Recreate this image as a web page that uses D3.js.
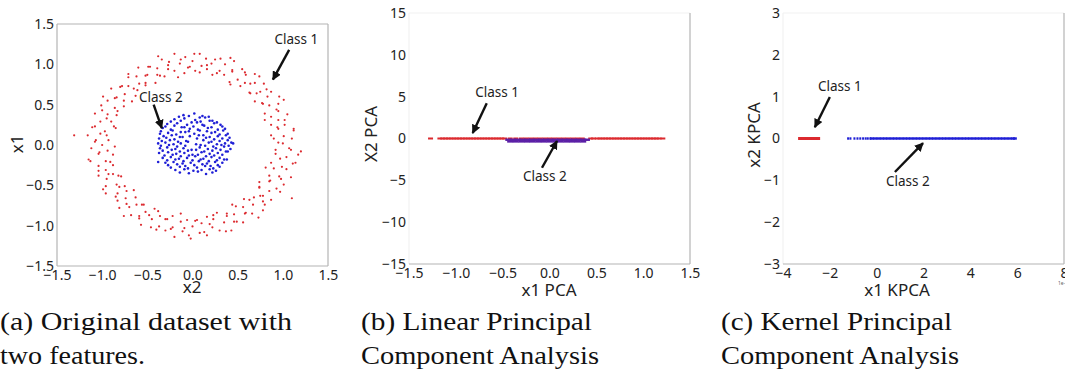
<!DOCTYPE html>
<html>
  <head>
    <meta charset="utf-8">
    <title>Linear vs Kernel PCA</title>
    <script src="https://cdn.jsdelivr.net/npm/d3@7"></script>
    <style>
      body { margin: 0; background: #fff; }
      .tick text { font-family: "Noto Sans", sans-serif; font-size: 14px; fill: #222; }
      .axis-label { font-family: "Noto Sans", sans-serif; font-size: 17px; fill: #222; }
      .note { font-family: "Noto Sans", sans-serif; font-size: 13.5px; fill: #222; }
      .caption { font-family: "Liberation Serif", serif; font-size: 25px; fill: #111; }
    </style>
  </head>
  <body>
    <div id="chart"></div>
    <script>
      // ---- data ----
      // (a) original dataset, points as [x2, x1]
      var class1Ring = [
        [.95,.03],[1.10,.08],[1.01,.11],[.87,.12],[1.12,.20],[.95,.20],[1.02,.25],[.87,.25],[.95,.31],[1.05,.38],
        [.87,.35],[.95,.42],[.80,.39],[.95,.51],[.85,.49],[.96,.60],[.77,.52],[.83,.60],[.69,.54],[.82,.69],
        [.71,.64],[.79,.76],[.63,.65],[.69,.77],[.64,.76],[.69,.88],[.53,.73],[.59,.87],[.50,.81],[.55,.94],
        [.41,.78],[.44,.91],[.46,1.04],[.35,.87],[.36,1.00],[.30,.92],[.31,1.07],[.22,.87],[.21,1.01],[.16,.94],
        [.15,1.07],[.10,.98],[.08,1.13],[.03,.92],[0,1.04],
        [-.03,.97],[-.08,1.09],[-.09,.89],[-.14,1.01],[-.20,1.13],[-.20,.92],[-.26,1.03],[-.27,.94],[-.34,1.06],[-.31,.85],
        [-.39,.95],[-.39,.87],[-.47,.97],[-.41,.77],[-.50,.87],[-.60,.96],[-.52,.77],[-.62,.85],[-.59,.76],[-.71,.84],
        [-.61,.68],[-.71,.73],[-.63,.61],[-.80,.72],[-.75,.63],[-.90,.70],[-.76,.55],[-.86,.58],[-.76,.48],[-.94,.55],
        [-.86,.46],[-1.01,.49],[-.84,.37],[-.94,.38],[-1.08,.39],[-.90,.29],[-1.02,.29],[-.85,.21],[-1.08,.23],[-.97,.17],
        [-1.02,.14],[-1.16,.12],[-.93,.06],[-1.08,.04],[-1.00,0],[-1.31,.12],
        [-1.12,-.04],[-.94,-.07],[-1.04,-.11],[-.88,-.12],[-1.13,-.20],[-.96,-.20],[-1.04,-.26],[-.88,-.25],[-.96,-.31],[-1.04,-.38],
        [-.88,-.36],[-.95,-.42],[-.79,-.39],[-.96,-.51],[-.84,-.49],[-.96,-.60],[-.75,-.51],[-.83,-.60],[-.73,-.57],[-.83,-.69],
        [-.74,-.66],[-.81,-.78],[-.63,-.65],[-.70,-.77],[-.62,-.74],[-.68,-.87],[-.54,-.74],[-.59,-.88],[-.52,-.83],[-.57,-.99],
        [-.42,-.79],[-.45,-.92],[-.46,-1.02],[-.36,-.88],[-.37,-1.01],[-.30,-.92],[-.30,-1.06],[-.22,-.88],[-.22,-1.02],[-.20,-1.14],
        [-.13,-.95],[-.11,-1.07],[-.06,-.93],[-.04,-1.12],[0,-1.01],
        [.03,-.94],[.08,-1.09],[.10,-.97],[.16,-1.12],[.16,-.89],[.22,-1.02],[.23,-.92],[.30,-1.06],[.27,-.84],[.35,-.96],
        [.43,-1.06],[.38,-.85],[.46,-.95],[.46,-.86],[.56,-.96],[.48,-.76],[.58,-.85],[.56,-.77],[.66,-.85],[.57,-.67],
        [.67,-.74],[.78,-.81],[.68,-.65],[.78,-.70],[.75,-.63],[.87,-.68],[.74,-.53],[.85,-.57],[.74,-.46],[.93,-.54],
        [.85,-.45],[1.01,-.49],[.85,-.38],[.96,-.39],[1.09,-.40],[.90,-.29],[1.04,-.30],[.87,-.22],[1.11,-.23],[.97,-.17],
        [1.04,-.15],[1.17,-.12],[.92,-.06],[1.07,-.04],[1.20,-.08],[1.10,-.66],
        [1.00,.02],[.90,.08],[1.12,.18],[.94,.22],[1.02,.31],[.80,.31],[.93,.44],[1.01,.56],[.78,.51],[.87,.66],
        [.75,.66],[.64,.64],[.74,.85],[.58,.77],[.58,.90],[.42,.75],[.44,.93],[.42,1.08],[.27,.89],[.25,1.06],
        [.16,.99],[.08,.90],[.02,1.13],[-.05,.96],[-.13,1.06],[-.16,.84],[-.27,.99],[-.38,1.10],[-.36,.86],[-.49,.97],
        [-.52,.86],[-.52,.74],[-.71,.88],[-.65,.70],[-.78,.73],[-.67,.54],[-.84,.59],[-.99,.60],[-.83,.42],[-1.00,.43],
        [-.95,.33],[-.87,.23],[-1.11,.22],[-.95,.12],[-1.07,.06],[-.86,-.02],[-1.03,-.09],[-1.15,-.18],[-.91,-.21],[-1.04,-.32],
        [-.93,-.36],[-.82,-.38],[-.99,-.55],[-.81,-.52],[-.85,-.64],[-.65,-.56],[-.73,-.73],[-.76,-.88],[-.56,-.74],[-.59,-.91],
        [-.48,-.87],[-.38,-.82],[-.40,-1.05],[-.28,-.92],[-.24,-1.04],[-.13,-.85],[-.09,-1.03],[-.02,-1.16],[.05,-.93],[.13,-1.08],
        [.19,-.98],[.23,-.87],[.37,-1.07],[.38,-.88],[.49,-.95],[.44,-.74],[.59,-.84],[.73,-.90],[.63,-.68],[.80,-.74],
        [.78,-.63],[.74,-.52],[.97,-.58],[.86,-.44],[.98,-.42],[.81,-.28],[.99,-.27],[1.14,-.22],[.92,-.11],[1.09,-.06]
      ];
      var class2Blob = [
        [-.10,.37],[.02,.39],[.11,.36],
        [-.20,.32],[-.09,.33],[.03,.31],[.14,.34],[.22,.30],
        [-.28,.26],[-.17,.27],[-.06,.25],[.05,.28],[.13,.24],[.24,.27],[.31,.25],
        [-.33,.21],[-.24,.19],[-.12,.22],[-.03,.20],[.08,.18],[.17,.21],[.28,.19],[.36,.20],
        [-.36,.14],[-.27,.15],[-.18,.13],[-.08,.16],[.02,.14],[.12,.12],[.21,.15],[.30,.13],[.39,.14],
        [-.37,.08],[-.29,.09],[-.20,.07],[-.11,.10],[.05,.08],[.15,.09],[.24,.07],[.33,.08],[.41,.09],
        [-.38,.02],[-.30,.03],[-.21,.01],[-.13,.02],[-.05,.04],[.09,.00],[.18,.03],[.27,.01],[.36,.02],[.43,.03],
        [-.36,-.04],[-.28,-.03],[-.19,-.05],[-.10,-.04],[-.01,-.06],[.08,-.03],[.17,-.05],[.26,-.04],[.35,-.02],[.42,-.05],
        [-.37,-.10],[-.27,-.09],[-.18,-.11],[-.09,-.10],[.00,-.12],[.10,-.09],[.19,-.11],[.28,-.10],[.37,-.08],
        [-.33,-.16],[-.24,-.15],[-.15,-.17],[-.06,-.16],[.03,-.14],[.12,-.17],[.21,-.15],[.30,-.16],[.38,-.18],
        [-.30,-.22],[-.21,-.21],[-.11,-.23],[-.02,-.22],[.07,-.20],[.16,-.23],[.25,-.21],[.33,-.22],
        [-.24,-.28],[-.14,-.27],[-.05,-.29],[.05,-.28],[.14,-.26],[.23,-.29],[.30,-.27],
        [-.14,-.34],[-.04,-.35],[.06,-.33],[.15,-.36],[.22,-.34],
        [-.15,.35],[-.04,.36],[.08,.34],[.18,.35],
        [-.24,.29],[-.13,.30],[-.01,.28],[.09,.29],[.19,.30],[.27,.28],
        [-.30,.23],[-.20,.24],[-.09,.22],[.01,.23],[.11,.25],[.21,.22],[.33,.23],
        [-.35,.17],[-.22,.18],[-.13,.16],[-.04,.17],[.06,.19],[.16,.17],[.25,.16],[.34,.18],
        [-.32,.11],[-.23,.12],[-.14,.10],[-.03,.11],[.07,.12],[.19,.10],[.28,.11],[.37,.12],
        [-.34,.05],[-.25,.06],[-.16,.04],[-.07,.05],[.12,.06],[.21,.04],[.30,.05],[.39,.06],
        [-.35,-.01],[-.26,.00],[-.17,-.02],[-.08,-.01],[.04,.01],[.14,-.01],[.23,-.02],[.32,.00],[.40,-.01],
        [-.33,-.07],[-.23,-.06],[-.14,-.08],[-.05,-.07],[.04,-.06],[.13,-.08],[.22,-.07],[.31,-.06],[.39,-.08],
        [-.31,-.13],[-.22,-.12],[-.13,-.14],[-.04,-.13],[.06,-.12],[.15,-.14],[.24,-.13],[.33,-.12],
        [-.28,-.19],[-.19,-.18],[-.10,-.20],[.00,-.19],[.09,-.18],[.18,-.20],[.27,-.19],[.35,-.18],
        [-.27,-.25],[-.17,-.24],[-.08,-.26],[.02,-.25],[.11,-.24],[.20,-.26],[.28,-.25],
        [-.19,-.31],[-.09,-.30],[.01,-.32],[.10,-.31],[.19,-.30],[.26,-.32],
        [-.38,-.21],[.45,.02]
      ];

      // (b) linear PCA projection
      var pcaClass1X = [-1.27, -1.17, -1.14, -1.11, -1.08, -1.05, -1.02, -0.99, -0.96, -0.93, -0.90, -0.87,
        -0.84, -0.81, -0.78, -0.75, -0.72, -0.69, -0.66, -0.63, -0.60, -0.57, -0.54, -0.51, -0.48,
        -0.42, -0.36, -0.30, -0.25, -0.20, -0.15, -0.10, -0.05, 0.00, 0.05, 0.10, 0.15, 0.20, 0.25,
        0.30, 0.35, 0.44, 0.47, 0.51, 0.54, 0.57, 0.60, 0.63, 0.66, 0.69, 0.72, 0.75, 0.78, 0.81,
        0.84, 0.87, 0.90, 0.93, 0.96, 0.99, 1.02, 1.05, 1.08, 1.11, 1.14, 1.17, 1.21];
      var pcaClass2 = [
        [-0.44,-0.15],[-0.39,-0.15],[-0.34,-0.15],[-0.29,-0.15],[-0.24,-0.15],[-0.19,-0.15],[-0.14,-0.15],
        [-0.09,-0.15],[-0.04,-0.15],[0.01,-0.15],[0.06,-0.15],[0.11,-0.15],[0.16,-0.15],[0.21,-0.15],
        [0.26,-0.15],[0.31,-0.15],[0.36,-0.15],[0.40,-0.15],
        [-0.42,-0.35],[-0.36,-0.35],[-0.30,-0.35],[-0.24,-0.35],[-0.18,-0.35],[-0.12,-0.35],[-0.06,-0.35],
        [0.00,-0.35],[0.06,-0.35],[0.12,-0.35],[0.18,-0.35],[0.24,-0.35],[0.30,-0.35],[0.36,-0.35]
      ];

      // (c) kernel PCA projection
      var kpcaClass1X = [-3.27, -3.19, -3.11, -3.03, -2.95, -2.87, -2.79, -2.71, -2.63, -2.55, -2.50];
      var kpcaClass2X = [-1.22, -1.12, -0.95, -0.82, -0.70, -0.58, -0.47, -0.38, -0.27,
        -0.20, -0.06, 0.08, 0.22, 0.36, 0.50, 0.64, 0.78, 0.92, 1.06, 1.20, 1.34, 1.48, 1.62, 1.76,
        1.90, 2.04, 2.18, 2.32, 2.46, 2.60, 2.74, 2.88, 3.02, 3.16, 3.30, 3.44, 3.58, 3.72, 3.86,
        4.00, 4.14, 4.28, 4.42, 4.56, 4.70, 4.84, 4.98, 5.12, 5.26, 5.40, 5.54, 5.68, 5.82, 5.90];

      // tick values
      var ticksA = [-1.5, -1.0, -0.5, 0.0, 0.5, 1.0, 1.5];
      var ticksPcaY = [-15, -10, -5, 0, 5, 10, 15];
      var ticksKpcaX = [-4, -2, 0, 2, 4, 6, 8];
      var ticksKpcaY = [-3, -2, -1, 0, 1, 2, 3];

      // annotations: [label, textX, textY, arrowFromX, arrowFromY, arrowToX, arrowToY] in data units
      var notesA = [["Class 1", 1.15, 1.30, 1.07, 1.18, 0.89, 0.81],
                    ["Class 2", -0.35, 0.58, -0.43, 0.50, -0.34, 0.21]];
      var notesB = [["Class 1", -0.56, 5.4, -0.67, 4.2, -0.82, 0.65],
                    ["Class 2", -0.05, -4.7, -0.08, -3.5, 0.08, -0.3]];
      var notesC = [["Class 1", -1.57, 1.23, -2.0, 0.99, -2.64, 0.27],
                    ["Class 2", 1.33, -1.06, 0.78, -0.80, 1.98, -0.11]];

      var red = "#dc2a2f", blue = "#1f1fd6", purple = "#5b1fa6";

      var svg = d3.select("#chart").append("svg")
        .attr("width", 1065)
        .attr("height", 378);

      svg.append("defs").append("marker")
        .attr("id", "arrow")
        .attr("viewBox", "0 0 10 10")
        .attr("refX", 9).attr("refY", 5)
        .attr("markerUnits", "userSpaceOnUse")
        .attr("markerWidth", 9).attr("markerHeight", 9)
        .attr("orient", "auto")
        .append("path")
          .attr("d", "M0,0L10,5L0,10z")
          .attr("fill", "#111");

      var fmt = function(d) { return (d < 0 ? "\u2212" : "") + Math.abs(d); };
      var fmt1 = function(d) { return (d < 0 ? "\u2212" : "") + Math.abs(d).toFixed(1); };

      // draws frame, ticks and labels for one panel, returns the scales
      function makePanel(p) {
        var x = d3.scaleLinear().domain(p.xDomain).range([p.left, p.right]);
        var y = d3.scaleLinear().domain(p.yDomain).range([p.bottom, p.top]);
        var g = svg.append("g");

        // frame
        var sides = [
          [p.left, p.top, p.right, p.top, p.fullBox ? "#b4b4b4" : "#f2f2f2"],
          [p.left, p.top, p.left, p.bottom, p.fullBox ? "#b4b4b4" : "#f2f2f2"],
          [p.right, p.top, p.right, p.bottom, "#b4b4b4"],
          [p.left, p.bottom, p.right, p.bottom, "#b4b4b4"]
        ];
        g.selectAll("line.frame").data(sides).enter().append("line")
          .attr("class", "frame")
          .attr("x1", function(d) { return d[0]; }).attr("y1", function(d) { return d[1]; })
          .attr("x2", function(d) { return d[2]; }).attr("y2", function(d) { return d[3]; })
          .attr("stroke", function(d) { return d[4]; })
          .attr("stroke-width", 1.2);

        var xa = g.append("g")
          .attr("transform", "translate(0," + p.bottom + ")")
          .call(d3.axisBottom(x).tickValues(p.xTicks).tickFormat(p.xFmt).tickSize(0).tickPadding(4));
        var ya = g.append("g")
          .attr("transform", "translate(" + p.left + ",0)")
          .call(d3.axisLeft(y).tickValues(p.yTicks).tickFormat(p.yFmt).tickSize(0).tickPadding(3));
        xa.select(".domain").remove();
        ya.select(".domain").remove();

        g.append("text").attr("class", "axis-label")
          .attr("x", p.xLabelPos[0]).attr("y", p.xLabelPos[1])
          .attr("text-anchor", "middle")
          .text(p.xLabel);
        g.append("text").attr("class", "axis-label")
          .attr("transform", "translate(" + p.yLabelPos[0] + "," + p.yLabelPos[1] + ") rotate(-90)")
          .attr("text-anchor", "middle")
          .attr("dominant-baseline", "middle")
          .text(p.yLabel);

        return {x: x, y: y, g: g};
      }

      function addNotes(s, notes) {
        notes.forEach(function(n) {
          s.g.append("text").attr("class", "note")
            .attr("x", s.x(n[1])).attr("y", s.y(n[2]))
            .attr("text-anchor", "middle")
            .attr("dominant-baseline", "middle")
            .text(n[0]);
          s.g.append("line")
            .attr("x1", s.x(n[3])).attr("y1", s.y(n[4]))
            .attr("x2", s.x(n[5])).attr("y2", s.y(n[6]))
            .attr("stroke", "#111")
            .attr("stroke-width", 2.4)
            .attr("marker-end", "url(#arrow)");
        });
      }

      // (a)
      var a = makePanel({
        left: 57, right: 328, top: 24, bottom: 266, fullBox: true,
        xDomain: [-1.5, 1.5], yDomain: [-1.5, 1.5],
        xTicks: ticksA, yTicks: ticksA, xFmt: fmt1, yFmt: fmt1,
        xLabel: "x2", xLabelPos: [192, 293], yLabel: "x1", yLabelPos: [18, 144]
      });
      a.g.selectAll("circle.c1").data(class1Ring).enter().append("circle")
        .attr("cx", function(d) { return a.x(d[0]); })
        .attr("cy", function(d) { return a.y(d[1]); })
        .attr("r", 1.1)
        .attr("fill", red);
      a.g.selectAll("circle.c2").data(class2Blob).enter().append("circle")
        .attr("cx", function(d) { return a.x(d[0]); })
        .attr("cy", function(d) { return a.y(d[1]); })
        .attr("r", 1.3)
        .attr("fill", blue);
      addNotes(a, notesA);

      // (b)
      var b = makePanel({
        left: 409, right: 690, top: 13, bottom: 264, fullBox: false,
        xDomain: [-1.5, 1.5], yDomain: [-15, 15],
        xTicks: ticksA, yTicks: ticksPcaY, xFmt: fmt1, yFmt: fmt,
        xLabel: "x1 PCA", xLabelPos: [549, 296], yLabel: "X2 PCA", yLabelPos: [372, 134]
      });
      b.g.selectAll("rect.c1").data(pcaClass1X).enter().append("rect")
        .attr("x", function(d) { return b.x(d) - 2.5; })
        .attr("y", b.y(0) - 1)
        .attr("width", 5).attr("height", 2)
        .attr("fill", red);
      b.g.selectAll("rect.c2").data(pcaClass2).enter().append("rect")
        .attr("x", function(d) { return b.x(d[0]) - 3; })
        .attr("y", function(d) { return b.y(d[1]) - 1.2; })
        .attr("width", 6).attr("height", 2.4)
        .attr("fill", purple);
      addNotes(b, notesB);

      // (c)
      var c = makePanel({
        left: 783, right: 1064, top: 13, bottom: 264, fullBox: false,
        xDomain: [-4, 8], yDomain: [-3, 3],
        xTicks: ticksKpcaX, yTicks: ticksKpcaY, xFmt: fmt, yFmt: fmt,
        xLabel: "x1 KPCA", xLabelPos: [897, 296], yLabel: "x2 KPCA", yLabelPos: [755, 135]
      });
      c.g.selectAll("rect.c1").data(kpcaClass1X).enter().append("rect")
        .attr("x", function(d) { return c.x(d) - 2; })
        .attr("y", c.y(0) - 1.5)
        .attr("width", 4).attr("height", 3)
        .attr("fill", red);
      c.g.selectAll("rect.c2").data(kpcaClass2X).enter().append("rect")
        .attr("x", function(d) { return c.x(d) - (d < -0.2 ? 1 : 2); })
        .attr("y", c.y(0) - 1.2)
        .attr("width", function(d) { return d < -0.2 ? 2 : 4; })
        .attr("height", 2.4)
        .attr("fill", blue);
      addNotes(c, notesC);
      c.g.append("text")
        .attr("x", 1058).attr("y", 285)
        .attr("font-family", "Noto Sans").attr("font-size", 5).attr("fill", "#666")
        .text("1e-3");

      // captions
      var captions = [
        ["(a) Original dataset with", 0, 330, 292],
        ["two features.", 0, 364, 145],
        ["(b) Linear Principal", 361, 330, 231],
        ["Component Analysis", 361, 364, 238],
        ["(c) Kernel Principal", 721, 330, 231],
        ["Component Analysis", 721, 364, 238]
      ];
      svg.selectAll("text.caption").data(captions).enter().append("text")
        .attr("class", "caption")
        .attr("x", function(d) { return d[1]; })
        .attr("y", function(d) { return d[2]; })
        .attr("textLength", function(d) { return d[3]; })
        .attr("lengthAdjust", "spacingAndGlyphs")
        .text(function(d) { return d[0]; });
    </script>
  </body>
</html>
